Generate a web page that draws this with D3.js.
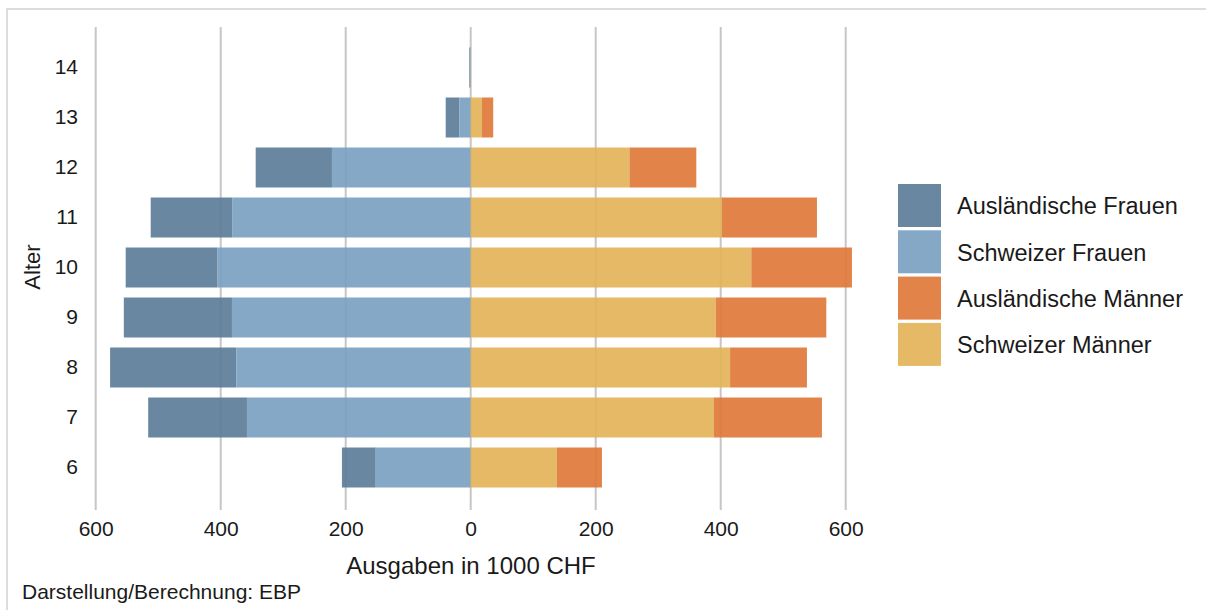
<!DOCTYPE html>
<html>
<head>
<meta charset="utf-8">
<script src="https://cdn.jsdelivr.net/npm/d3@7/dist/d3.min.js"></script>
<style>
html,body{margin:0;padding:0;background:#fff;}
svg{display:block;font-family:"Liberation Sans",Arial,sans-serif;}
</style>
</head>
<body>
<svg id="chart" width="1206" height="610"></svg>
<script>
const ages = [6, 7, 8, 9, 10, 11, 12, 13, 14];
const schweizerFrauen = [152, 358, 375, 382, 405, 381, 222, 18, 1.5];
const auslaendischeFrauen = [54, 158, 202, 173, 147, 131, 122, 22, 1];
const schweizerMaenner = [138, 389, 415, 392, 449, 402, 254, 18, 0.5];
const auslaendischeMaenner = [72, 173, 123, 177, 161, 152, 107, 18, 0];
const xTicks = [-600, -400, -200, 0, 200, 400, 600];
const seriesNames = ["Ausländische Frauen", "Schweizer Frauen", "Ausländische Männer", "Schweizer Männer"];
const seriesColors = ["#597a96", "#789ec1", "#df7736", "#e3b155"];

const svg = d3.select("#chart");

// frame
svg.append("rect").attr("x", 7).attr("y", 9).attr("width", 1300).attr("height", 700)
  .attr("fill", "none").attr("stroke", "#dcdcdc").attr("stroke-width", 2);

const x = d3.scaleLinear().domain([-600, 600]).range([95.7, 845.7]);
const y = d3.scaleBand().domain(ages.slice().reverse().map(String)).range([37.5, 497.5]).padding(0.2);

// grid
svg.append("g").selectAll("line").data(xTicks).join("line")
  .attr("x1", d => x(d)).attr("x2", d => x(d))
  .attr("y1", 27).attr("y2", 510)
  .attr("stroke", "#c6c6c6").attr("stroke-width", 2);

// bars
const rows = ages.map((a, i) => ({
  age: String(a),
  sf: schweizerFrauen[i], af: auslaendischeFrauen[i],
  sm: schweizerMaenner[i], am: auslaendischeMaenner[i]
}));
const segs = [];
rows.forEach(r => {
  segs.push({age: r.age, x0: -r.sf - r.af, x1: -r.sf, c: seriesColors[0]});
  segs.push({age: r.age, x0: -r.sf, x1: 0, c: seriesColors[1]});
  segs.push({age: r.age, x0: 0, x1: r.sm, c: seriesColors[3]});
  segs.push({age: r.age, x0: r.sm, x1: r.sm + r.am, c: seriesColors[2]});
});
svg.append("g").selectAll("rect").data(segs).join("rect")
  .attr("x", d => x(d.x0)).attr("width", d => Math.max(0, x(d.x1) - x(d.x0)))
  .attr("y", d => y(d.age)).attr("height", y.bandwidth())
  .attr("fill", d => d.c).attr("fill-opacity", 0.9);

// x axis
const xAxis = d3.axisBottom(x).tickValues(xTicks).tickFormat(d => Math.abs(d)).tickSize(0).tickPadding(0);
const gx = svg.append("g").attr("transform", "translate(0,521)").call(xAxis);
gx.select(".domain").remove();
gx.selectAll("text").attr("font-size", 21).attr("fill", "#1a1a1a")
  .attr("font-family", "'Liberation Sans',Arial,sans-serif").attr("dy", "0.71em");

// y axis
const yAxis = d3.axisLeft(y).tickSize(0).tickPadding(0);
const gy = svg.append("g").attr("transform", "translate(78,0)").call(yAxis);
gy.select(".domain").remove();
gy.selectAll("text").attr("font-size", 21).attr("fill", "#1a1a1a")
  .attr("font-family", "'Liberation Sans',Arial,sans-serif");

// axis titles
svg.append("text").attr("x", 471).attr("y", 574).attr("text-anchor", "middle")
  .attr("font-size", 24).attr("fill", "#1a1a1a").text("Ausgaben in 1000 CHF");
svg.append("text").attr("transform", "translate(40,267) rotate(-90)").attr("text-anchor", "middle")
  .attr("font-size", 22).attr("fill", "#1a1a1a").text("Alter");

// footer
svg.append("text").attr("x", 22).attr("y", 599)
  .attr("font-size", 21).attr("fill", "#1a1a1a").text("Darstellung/Berechnung: EBP");

// legend
const lg = svg.append("g").attr("transform", "translate(898,184)");
const li = lg.selectAll("g").data(seriesNames).join("g")
  .attr("transform", (d, i) => `translate(0,${i * 46.3})`);
li.append("rect").attr("width", 43).attr("height", 43)
  .attr("fill", (d, i) => seriesColors[i]).attr("fill-opacity", 0.9);
li.append("text").attr("x", 59).attr("y", 22).attr("dy", "0.35em")
  .attr("font-size", 23.5).attr("fill", "#1a1a1a").text(d => d);
</script>
</body>
</html>
